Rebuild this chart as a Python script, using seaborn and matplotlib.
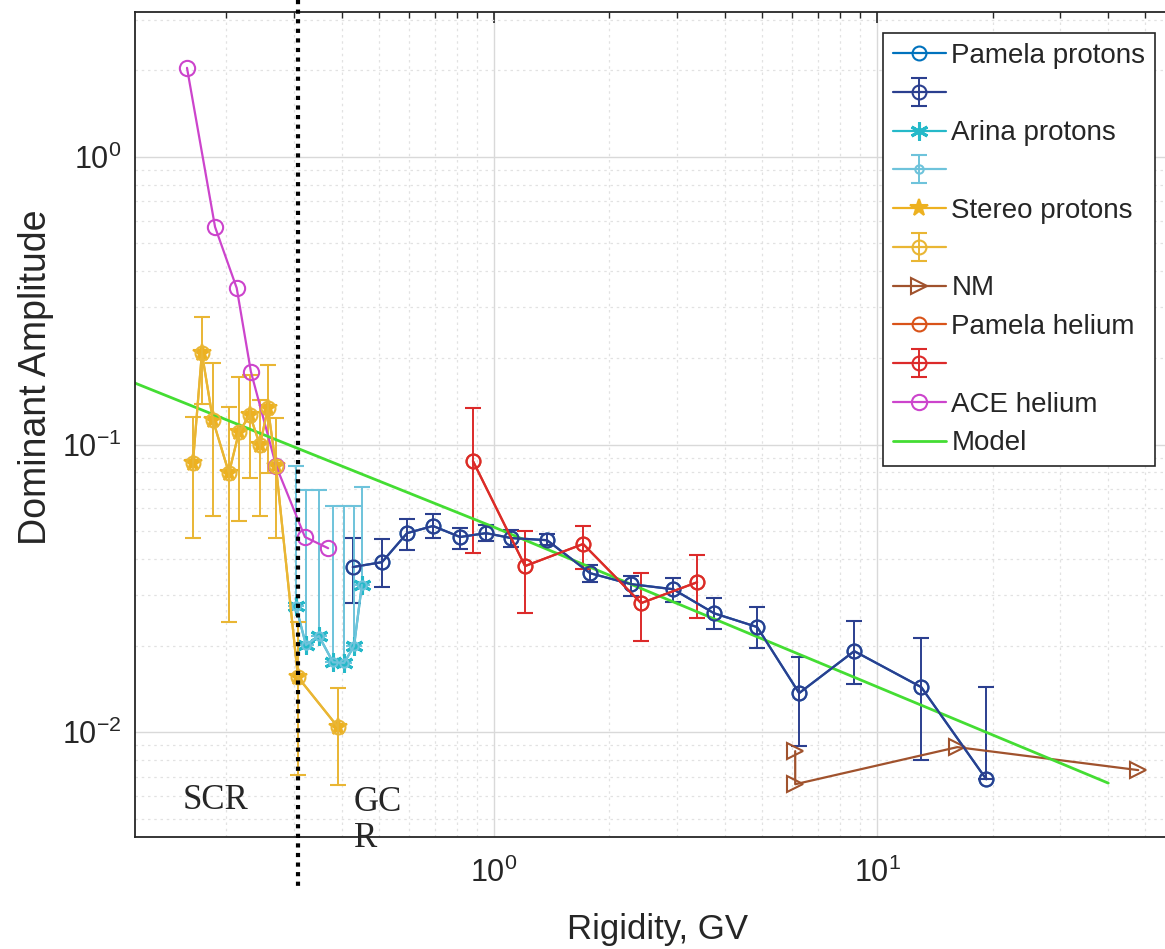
import numpy as np
import matplotlib
matplotlib.use("Agg")
import matplotlib.pyplot as plt
import seaborn as sns

# ---------------------------------------------------------------------------
# data
# ---------------------------------------------------------------------------

# Pamela protons
PAM_P_X = [0.428, 0.510, 0.593, 0.693, 0.815, 0.953, 1.108, 1.375, 1.781,
           2.279, 2.934, 3.753, 4.861, 6.256, 8.71, 13.03, 19.26]
PAM_P_Y = [0.0375, 0.0390, 0.0492, 0.0521, 0.0477, 0.0492, 0.0473, 0.0465,
           0.0357, 0.0327, 0.0314, 0.0259, 0.0232, 0.01367, 0.01913,
           0.01434, 0.00686]
PAM_P_HI = [0.0473, 0.0469, 0.0551, 0.0573, 0.0512, 0.0525, 0.0504, 0.0488,
            0.0381, 0.0349, 0.0343, 0.0292, 0.0272, 0.01823, 0.0244,
            0.0213, 0.0144]
PAM_P_LO = [0.0281, 0.0319, 0.0430, 0.0473, 0.0433, 0.0462, 0.0440, 0.0447,
            0.0332, 0.0297, 0.0283, 0.0228, 0.0196, 0.00894, 0.01475,
            0.00799, 0.00686]

# Arina protons (lower bars not visible)
ARINA_X = [0.304, 0.323, 0.349, 0.380, 0.406, 0.431, 0.452]
ARINA_Y = [0.0274, 0.0201, 0.0216, 0.0175, 0.0174, 0.0199, 0.0325]
ARINA_HI = [0.0842, 0.0695, 0.0695, 0.0611, 0.0611, 0.0611, 0.0711]
ARINA_LO = [0.0274, 0.0201, 0.0216, 0.0175, 0.0174, 0.0199, 0.0325]

# Stereo protons
STEREO_X = [0.1637, 0.1728, 0.1846, 0.2033, 0.2159, 0.2306, 0.2449, 0.2570,
            0.2696, 0.3078, 0.3915]
STEREO_Y = [0.0862, 0.2081, 0.1217, 0.0796, 0.1105, 0.1267, 0.0996, 0.1339,
            0.0842, 0.01553, 0.01041]
STEREO_HI = [0.1247, 0.2777, 0.1921, 0.135, 0.1717, 0.174, 0.1428, 0.1891,
             0.1237, 0.0241, 0.01422]
STEREO_LO = [0.0473, 0.1383, 0.0564, 0.0241, 0.0542, 0.0765, 0.0564, 0.0796,
             0.0473, 0.00709, 0.00654]

# Neutron monitors
NM_X = [6.11, 6.11, 16.18, 48.0]
NM_Y = [0.00859, 0.00659, 0.00887, 0.00738]

# Pamela helium
PAM_HE_X = [0.881, 1.205, 1.708, 2.42, 3.388]
PAM_HE_Y = [0.0876, 0.0378, 0.0451, 0.0281, 0.0332]
PAM_HE_HI = [0.1339, 0.0500, 0.0521, 0.0357, 0.0413]
PAM_HE_LO = [0.0419, 0.0259, 0.0369, 0.0207, 0.0249]

# ACE helium
ACE_X = [0.158, 0.187, 0.213, 0.232, 0.270, 0.321, 0.369]
ACE_Y = [2.04, 0.571, 0.350, 0.179, 0.0842, 0.0477, 0.0436]

# Model
MODEL_X = [0.115, 1.0, 40.1]
MODEL_Y = [0.164, 0.0516, 0.00665]

SCR_GCR_BOUNDARY = 0.308

LEGEND_LABELS = ["Pamela protons", " ", "Arina protons", " ", "Stereo protons",
                 " ", "NM", "Pamela helium", " ", "ACE helium", "Model"]

# ---------------------------------------------------------------------------
# figure
# ---------------------------------------------------------------------------

sns.set_theme(style="white")
plt.rcParams["font.family"] = ["Liberation Sans", "DejaVu Sans"]
plt.rcParams["mathtext.fontset"] = "custom"
plt.rcParams["mathtext.rm"] = "Liberation Sans"

W, H = 1165, 949
fig = plt.figure(figsize=(W / 100, H / 100), dpi=100)
# axes runs past the right edge of the picture, like the cropped original
ax = fig.add_axes([135 / W, 1 - 837 / H, (1201 - 135) / W, (837 - 12) / H])
ax.set_xscale("log")
ax.set_yscale("log")
ax.set_xlim(0.1156, 70)
ax.set_ylim(0.00432, 3.19)

ax.grid(which="major", color="#d9d9d9", lw=1.0, ls="-")
ax.grid(which="minor", color="#e2e2e2", lw=0.9, ls=(0, (2, 3)))
ax.set_axisbelow(True)


def draw_line(x, y, color, marker=None, ms=10, mfc="none", mew=1.5, lw=1.6):
    sns.lineplot(x=x, y=y, ax=ax, color=color, marker=marker, markersize=ms,
                 markerfacecolor=mfc, markeredgecolor=color,
                 markeredgewidth=mew, lw=lw, sort=False, estimator=None)
    return ax.lines[-1]


def draw_err(x, y, lo, hi, color, ms=10, lw=1.6):
    y = np.asarray(y)
    yerr = [y - np.asarray(lo), np.asarray(hi) - y]
    return ax.errorbar(x, y, yerr=yerr, fmt="-o", color=color, ms=ms,
                       mfc="none", mec=color, mew=1.5, lw=lw, capsize=6,
                       capthick=1.4, elinewidth=1.4)


h_pam = draw_line(PAM_P_X, PAM_P_Y, "#0072BD", "o")
h_pam_e = draw_err(PAM_P_X, PAM_P_Y, PAM_P_LO, PAM_P_HI, "#2B3F8F")

h_ar_e = draw_err(ARINA_X, ARINA_Y, ARINA_LO, ARINA_HI, "#6EC3DB", ms=6)
h_ar = draw_line(ARINA_X, ARINA_Y, "#25B9C9", (6, 2, 0), ms=13, mew=2.2)

h_st = draw_line(STEREO_X, STEREO_Y, "#EDB120", "*", ms=13, mfc="#EDB120")
h_st_e = draw_err(STEREO_X, STEREO_Y, STEREO_LO, STEREO_HI, "#E9B634")

h_nm = draw_line(NM_X, NM_Y, "#A0522D", ">", ms=11)

h_he = draw_line(PAM_HE_X, PAM_HE_Y, "#D95319", "o")
h_he_e = draw_err(PAM_HE_X, PAM_HE_Y, PAM_HE_LO, PAM_HE_HI, "#DC2A2A")

h_ace = draw_line(ACE_X, ACE_Y, "#CC44CC", "o", ms=11)
h_mod = draw_line(MODEL_X, MODEL_Y, "#44DD33", None, lw=2.0)

# SCR / GCR boundary, running past the axes frame
ax.plot([SCR_GCR_BOUNDARY, SCR_GCR_BOUNDARY], [1.0145, -0.064], color="black",
        lw=3, ls=(0, (1, 1.3)), dash_capstyle="butt", clip_on=False, zorder=8,
        transform=ax.get_xaxis_transform())

serif = ["Liberation Serif", "DejaVu Serif"]
ax.text(0.045, 0.0448, "SCR", transform=ax.transAxes, family=serif,
        fontsize=25, ha="left", va="center")
ax.text(0.2055, 0.0200, "GC\nR", transform=ax.transAxes, family=serif,
        fontsize=25, ha="left", va="center", linespacing=1.1)

# axes cosmetics (MATLAB-like box with inward ticks)
for sp in ax.spines.values():
    sp.set_color("#262626")
    sp.set_linewidth(1.3)
ax.tick_params(which="both", direction="in", top=True, right=True,
               colors="#262626", labelsize=22)
ax.tick_params(axis="x", pad=15)
ax.tick_params(axis="y", pad=10)
ax.tick_params(which="major", length=8, width=1.2)
ax.tick_params(which="minor", length=4, width=1.0)
ax.xaxis.set_minor_formatter(matplotlib.ticker.NullFormatter())
ax.yaxis.set_minor_formatter(matplotlib.ticker.NullFormatter())

ax.set_xlabel("Rigidity, GV", fontsize=25, color="#262626")
ax.set_ylabel("Dominant Amplitude", fontsize=27, color="#262626")
ax.xaxis.set_label_coords(0.4898, -0.092)
ax.yaxis.set_label_coords(-0.076, 0.5576)

handles = [h_pam, h_pam_e, h_ar, h_ar_e, h_st, h_st_e, h_nm, h_he, h_he_e,
           h_ace, h_mod]
leg = ax.legend(handles, LEGEND_LABELS, loc="upper right",
                bbox_to_anchor=(1155 / W, 1 - 33 / H),
                bbox_transform=fig.transFigure, fontsize=20, frameon=True,
                fancybox=False, edgecolor="#262626", framealpha=1,
                borderpad=0.35, labelspacing=0.46, handlelength=1.9,
                handletextpad=0.2, borderaxespad=0)
leg.get_frame().set_linewidth(1.2)

fig.savefig("out.png", dpi=100, facecolor="white")
